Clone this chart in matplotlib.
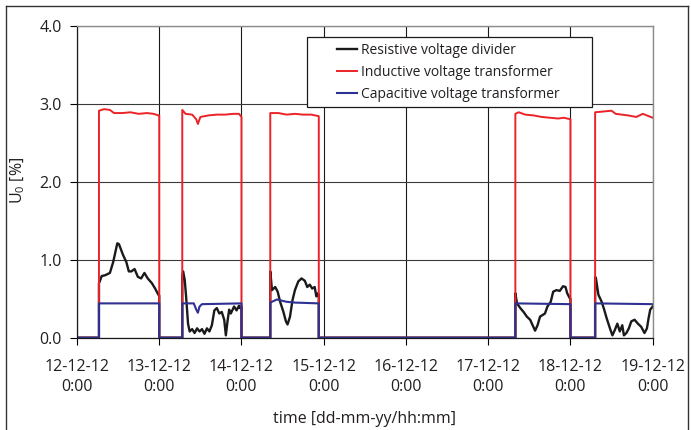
import matplotlib
matplotlib.use("Agg")
import matplotlib.pyplot as plt
from matplotlib.legend_handler import HandlerLine2D
from matplotlib.lines import Line2D

# time in days since 12-12-12 0:00, U0 in %
day_labels = ["12-12-12\n0:00", "13-12-12\n0:00", "14-12-12\n0:00", "15-12-12\n0:00",
              "16-12-12\n0:00", "17-12-12\n0:00", "18-12-12\n0:00", "19-12-12\n0:00"]
y_ticks = [0.0, 1.0, 2.0, 3.0, 4.0]

res_t = [0.0, 0.267, 0.267, 0.276, 0.30, 0.34, 0.40, 0.44, 0.49, 0.51, 0.56, 0.60, 0.63, 0.66,
         0.70, 0.74, 0.78, 0.82, 0.86, 0.91, 0.95, 0.99, 1.0, 1.0,
         1.28, 1.28, 1.29, 1.31, 1.33, 1.35, 1.37, 1.40, 1.43, 1.46, 1.49, 1.52, 1.55, 1.58, 1.61,
         1.64, 1.67, 1.70, 1.73, 1.76, 1.79, 1.81, 1.83, 1.85, 1.87, 1.91, 1.94, 1.97, 1.98, 2.0, 2.0,
         2.35, 2.35, 2.36, 2.37, 2.41, 2.44, 2.47, 2.51, 2.54, 2.56, 2.59, 2.62, 2.65, 2.69, 2.73,
         2.77, 2.80, 2.83, 2.86, 2.89, 2.91, 2.93, 2.94, 2.94,
         5.33, 5.33, 5.35, 5.39, 5.43, 5.47, 5.51, 5.54, 5.57, 5.60, 5.63, 5.66, 5.69, 5.72, 5.76,
         5.79, 5.83, 5.87, 5.91, 5.94, 5.96, 5.99, 6.0, 6.0,
         6.30, 6.30, 6.31, 6.34, 6.38, 6.41, 6.44, 6.48, 6.51, 6.54, 6.57, 6.60, 6.63, 6.65, 6.68,
         6.71, 6.74, 6.78, 6.82, 6.86, 6.90, 6.93, 6.95, 6.97, 7.0]
res_v = [0.0, 0.0, 0.70, 0.72, 0.79, 0.80, 0.83, 0.97, 1.21, 1.20, 1.06, 0.97, 0.85, 0.85,
         0.88, 0.78, 0.76, 0.83, 0.76, 0.70, 0.63, 0.55, 0.54, 0.0,
         0.0, 0.80, 0.85, 0.74, 0.48, 0.18, 0.08, 0.11, 0.06, 0.12, 0.08, 0.11, 0.05, 0.12, 0.08,
         0.16, 0.35, 0.38, 0.31, 0.33, 0.23, 0.03, 0.21, 0.36, 0.31, 0.40, 0.35, 0.41, 0.38, 0.40, 0.0,
         0.0, 0.85, 0.74, 0.61, 0.65, 0.59, 0.46, 0.33, 0.21, 0.17, 0.27, 0.48, 0.61, 0.72, 0.76,
         0.73, 0.65, 0.68, 0.63, 0.65, 0.53, 0.57, 0.55, 0.0,
         0.0, 0.57, 0.44, 0.38, 0.33, 0.27, 0.23, 0.16, 0.09, 0.16, 0.27, 0.29, 0.31, 0.40, 0.46,
         0.59, 0.61, 0.60, 0.66, 0.65, 0.57, 0.51, 0.50, 0.0,
         0.0, 0.78, 0.76, 0.55, 0.46, 0.36, 0.25, 0.12, 0.03, 0.10, 0.18, 0.08, 0.16, 0.03, 0.06,
         0.12, 0.21, 0.23, 0.18, 0.14, 0.06, 0.12, 0.25, 0.36, 0.40]

ind_t = [0.0, 0.267, 0.267, 0.33, 0.40, 0.45, 0.55, 0.65, 0.75, 0.85, 0.93, 0.99, 1.0, 1.0,
         1.28, 1.28, 1.32, 1.40, 1.45, 1.47, 1.50, 1.60, 1.70, 1.80, 1.90, 1.97, 2.0, 2.0,
         2.35, 2.35, 2.45, 2.55, 2.65, 2.75, 2.85, 2.94, 2.94,
         5.33, 5.33, 5.37, 5.45, 5.55, 5.65, 5.75, 5.85, 5.92, 6.0, 6.0,
         6.30, 6.30, 6.40, 6.50, 6.55, 6.70, 6.80, 6.88, 7.0]
ind_v = [0.0, 0.0, 2.91, 2.93, 2.92, 2.88, 2.88, 2.89, 2.87, 2.88, 2.87, 2.85, 2.85, 0.0,
         0.0, 2.92, 2.87, 2.86, 2.80, 2.74, 2.83, 2.85, 2.86, 2.86, 2.87, 2.87, 2.83, 0.0,
         0.0, 2.88, 2.88, 2.86, 2.87, 2.86, 2.86, 2.84, 0.0,
         0.0, 2.87, 2.89, 2.86, 2.85, 2.83, 2.82, 2.81, 2.82, 2.80, 0.0,
         0.0, 2.89, 2.90, 2.91, 2.87, 2.85, 2.83, 2.87, 2.82]

cap_t = [0.0, 0.267, 0.267, 1.0, 1.0,
         1.28, 1.28, 1.42, 1.45, 1.47, 1.49, 1.52, 2.0, 2.0,
         2.35, 2.35, 2.43, 2.55, 2.65, 2.94, 2.94,
         5.33, 5.33, 6.0, 6.0,
         6.30, 6.30, 7.0]
cap_v = [0.0, 0.0, 0.44, 0.44, 0.0,
         0.0, 0.44, 0.44, 0.36, 0.32, 0.40, 0.43, 0.44, 0.0,
         0.0, 0.45, 0.49, 0.46, 0.45, 0.44, 0.0,
         0.0, 0.44, 0.43, 0.0,
         0.0, 0.44, 0.43]

plt.rcParams["font.family"] = ["Open Sans", "DejaVu Sans"]
plt.rcParams["mathtext.fontset"] = "custom"
plt.rcParams["mathtext.rm"] = "Open Sans"
text_col = "#231f20"

W, H = 691, 430
fig = plt.figure(figsize=(W / 100, H / 100), dpi=100)
ax = fig.add_axes([77 / W, 1 - 337.7 / H, (652.7 - 77) / W, (337.7 - 25.7) / H])

ax.plot(res_t, res_v, color="#1a1a1a", lw=1.7, label="Resistive voltage divider")
ax.plot(ind_t, ind_v, color="#ec2227", lw=1.4, label="Inductive voltage transformer")
ax.plot(cap_t, cap_v, color="#2e3192", lw=1.5, label="Capacitive voltage transformer")

ax.set_xlim(0, 7)
ax.set_ylim(0, 4)
ax.set_xticks(range(len(day_labels)))
ax.set_xticklabels(day_labels, linespacing=1.35)
ax.set_yticks(y_ticks)
ax.set_yticklabels([f"{v:.1f}" for v in y_ticks])
ax.set_axisbelow(True)
ax.grid(axis="y", color="#3a3a3a", lw=0.8)
ax.grid(axis="x", color="#1a1a1a", lw=0.8)
ax.tick_params(direction="out", length=5, width=0.8, labelsize=11.5, labelcolor=text_col)
ax.tick_params(axis="x", pad=10)
ax.tick_params(axis="y", pad=6)
for side in ["top", "right"]:
    ax.spines[side].set_color("#8c8c8c")
    ax.spines[side].set_linewidth(1.0)
for side in ["left", "bottom"]:
    ax.spines[side].set_color("#1a1a1a")
    ax.spines[side].set_linewidth(0.9)

ax.set_xlabel("time [dd-mm-yy/hh:mm]", fontsize=11.5, color=text_col, labelpad=12)
fig.text(18 / W, 1 - 180 / H, r"U$\mathregular{_0}$ [%]", rotation=90, fontsize=11.5,
         color=text_col, ha="center", va="center")

fs = 10
hl = HandlerLine2D(xpad=1.8)
leg = ax.legend(loc="upper left", bbox_to_anchor=(0.399, 0.738, 0.495, 0.225), mode="expand",
                borderaxespad=0, fontsize=fs, fancybox=False, framealpha=1, edgecolor="#1a1a1a",
                handlelength=3.25, handletextpad=0.25, labelspacing=0.52, borderpad=0.38,
                handler_map={Line2D: hl})
leg.get_frame().set_linewidth(0.9)
for t in leg.get_texts():
    t.set_color(text_col)

# outer frame of the figure
fig.add_artist(Line2D([6 / W, 6 / W], [0, 1 - 6 / H], color="#333333", lw=1.0))
fig.add_artist(Line2D([6 / W, 688 / W], [1 - 6 / H, 1 - 6 / H], color="#333333", lw=1.0))
fig.add_artist(Line2D([688 / W, 688 / W], [0, 1 - 6 / H], color="#333333", lw=1.0))

fig.savefig("out.png", dpi=100)
